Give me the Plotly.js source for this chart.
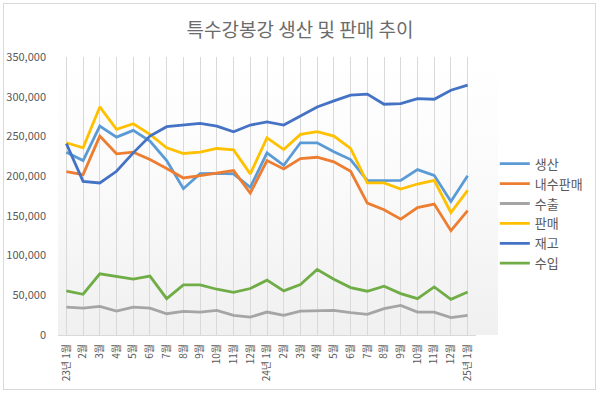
<!DOCTYPE html>
<html>
<head>
<meta charset="utf-8">
<script src="https://cdn.plot.ly/plotly-3.0.1.min.js"></script>
<style>
  html, body { margin:0; padding:0; background:#ffffff; }
  #wrap { position:relative; width:600px; height:393px; overflow:hidden; background:#ffffff; }
  #frame { position:absolute; left:3px; top:3px; width:593px; height:387px; border:1px solid #d9d9d9; box-sizing:border-box; }
  #bg { position:absolute; left:58px; top:57px; width:440px; height:278px;
        background:linear-gradient(to bottom, #ffffff 0%, #fbfbfb 40%, #f0f0f0 100%); }
  #chart { position:absolute; left:0; top:0; width:600px; height:393px; }
</style>
</head>
<body>
<div id="wrap">
  <div id="frame"></div>
  <div id="bg"></div>
  <div id="chart"></div>
</div>
<script>
const categories = [
  "23년 1월","23년 2월","23년 3월","23년 4월","23년 5월","23년 6월","23년 7월","23년 8월","23년 9월","23년 10월","23년 11월","23년 12월",
  "24년 1월","24년 2월","24년 3월","24년 4월","24년 5월","24년 6월","24년 7월","24년 8월","24년 9월","24년 10월","24년 11월","24년 12월",
  "25년 1월"
];
const tickLabels = [
  "23년 1월","2월","3월","4월","5월","6월","7월","8월","9월","10월","11월","12월",
  "24년 1월","2월","3월","4월","5월","6월","7월","8월","9월","10월","11월","12월",
  "25년 1월"
];
const production = [230000,219600,263000,249100,257600,244100,219600,184200,203200,203600,202800,185900,
  229300,213700,242000,242000,230600,220900,194300,194300,194700,208200,201000,168100,200600];
const domesticSales = [205700,201900,250400,228100,230100,220900,209500,197700,200600,203600,207000,178700,
  219600,209100,222200,223800,218000,206100,166100,157600,145800,160500,164800,131400,156700];
const exportsVol = [35200,33900,36100,30100,35200,33900,26800,29700,28900,31000,24700,22500,
  28900,24700,30100,31000,31000,28100,25900,33100,37300,28900,28900,21800,24700];
const sales = [242000,235700,287100,258900,266000,252500,235700,228500,230100,234800,233100,202800,
  248300,233500,252500,255900,250400,234800,191400,191400,183800,190100,194700,154200,182000];
const inventory = [241000,193400,191400,206100,229300,250400,262300,264300,266500,263000,255900,264300,
  268300,264300,275700,287100,294700,301900,303200,290500,291400,297700,296800,308200,314600];
const importsVol = [55500,51300,77000,74100,70300,74100,45800,63100,63100,57600,53800,58500,
  69000,55500,63500,82500,70300,59700,55100,61400,52100,45800,60500,44900,54200];

const seriesNames = ["생산","내수판매","수출","판매","재고","수입"];
const seriesData = [production, domesticSales, exportsVol, sales, inventory, importsVol];
const seriesColors = ["#5B9BD5","#ED7D31","#A5A5A5","#FFC000","#4472C4","#70AD47"];

const traces = seriesNames.map((n, i) => ({
  type: "scatter",
  mode: "lines",
  name: n,
  x: categories,
  y: seriesData[i],
  line: { color: seriesColors[i], width: 2.8 },
  hoverinfo: "x+y+name"
}));

const font = "'Noto Sans CJK KR', 'Noto Sans', sans-serif";
const layout = {
  width: 600, height: 393,
  margin: { l: 58, r: 102, t: 57, b: 58 },
  paper_bgcolor: "rgba(0,0,0,0)",
  plot_bgcolor: "rgba(0,0,0,0)",
  font: { family: font, color: "#595959", size: 11 },
  title: { text: "특수강봉강 생산 및 판매 추이", x: 0.5, xanchor: "center", y: 0.922, yanchor: "middle",
           font: { family: font, size: 19, color: "#6b6b6b" } },
  showlegend: true,
  legend: {
    x: 1.045, xanchor: "left", y: 0.67, yanchor: "top",
    font: { family: font, size: 13, color: "#595959" },
    bgcolor: "rgba(0,0,0,0)",
    itemwidth: 30,
    tracegroupgap: 0,
    traceorder: "normal"
  },
  xaxis: {
    type: "category",
    tickmode: "array",
    tickvals: categories,
    ticktext: tickLabels,
    tickangle: -90,
    range: [-0.5, 24.5],
    showgrid: true,
    gridcolor: "#d9d9d9",
    gridwidth: 1,
    showline: true,
    linecolor: "#d9d9d9",
    ticks: "",
    ticklabelstandoff: 4,
    tickfont: { family: font, size: 10, color: "#595959" },
    zeroline: false
  },
  yaxis: {
    range: [0, 350000],
    dtick: 50000,
    tickformat: ",",
    showgrid: false,
    zeroline: false,
    showline: false,
    ticks: "",
    ticklabelstandoff: 11,
    tickfont: { family: font, size: 11, color: "#595959" }
  }
};

Plotly.newPlot("chart", traces, layout, { displayModeBar: false, staticPlot: true });
</script>
</body>
</html>
